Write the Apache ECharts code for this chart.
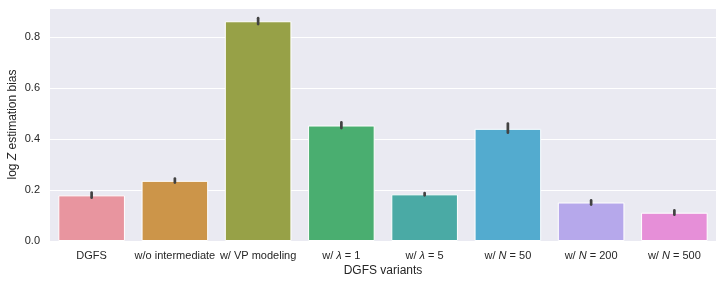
<!DOCTYPE html>
<html><head><meta charset="utf-8">
<script src="https://cdn.jsdelivr.net/npm/echarts@6/dist/echarts.min.js"></script>
<style>html,body{margin:0;padding:0;background:#fff}#c{width:724px;height:284px}</style>
</head><body><div id="c"></div>
<script>
const categories = ['DGFS', 'w/o intermediate', 'w/ VP modeling', 'lam1', 'lam5', 'N50', 'N200', 'N500'];
const values = [0.179, 0.236, 0.862, 0.453, 0.183, 0.440, 0.151, 0.111];
const errLow = [0.170, 0.229, 0.851, 0.443, 0.179, 0.425, 0.143, 0.103];
const errHigh = [0.190, 0.245, 0.874, 0.465, 0.188, 0.461, 0.159, 0.120];
const yTicks = [0, 0.2, 0.4, 0.6, 0.8];
const colors = ['#e8959f', '#cc9549', '#97a147', '#4aae70', '#4aaaa5', '#53abcf', '#b6a8eb', '#e68fd8'];

const FONT = 'Liberation Sans';
const labelRich = {
  n: {fontFamily: FONT, fontSize: 11, color: '#262626'},
  i: {fontFamily: FONT, fontSize: 11, color: '#262626', fontStyle: 'italic'}
};
function catLabel(v) {
  if (v === 'lam1') return '{n|w/ }{i|λ}{n| = 1}';
  if (v === 'lam5') return '{n|w/ }{i|λ}{n| = 5}';
  if (v.startsWith('N')) return '{n|w/ }{i|N}{n| = ' + v.slice(1) + '}';
  return '{n|' + v + '}';
}
const chart = echarts.init(document.getElementById('c'), null, {renderer: 'canvas'});
chart.setOption({
  animation: false,
  backgroundColor: '#ffffff',
  grid: {left: 50, right: 8, top: 8, bottom: 43, show: true, backgroundColor: '#eaeaf2', borderWidth: 0,
    outerBoundsMode: 'none', containLabel: false},
  xAxis: {
    type: 'category', data: categories,
    axisLine: {show: false}, axisTick: {show: false}, splitLine: {show: false},
    axisLabel: {interval: 0, margin: 9, formatter: catLabel, rich: labelRich},
    name: 'DGFS variants', nameLocation: 'middle', nameGap: 24, nameMoveOverlap: false,
    nameTextStyle: {fontFamily: FONT, fontSize: 12, color: '#262626'}
  },
  yAxis: {
    type: 'value', min: 0, max: 0.914, interval: 0.2,
    axisLine: {show: false}, axisTick: {show: false},
    splitLine: {lineStyle: {color: '#ffffff', width: 1.2}},
    axisLabel: {margin: 10, fontFamily: FONT, fontSize: 11, color: '#262626',
      formatter: v => { const t = yTicks.find(x => Math.abs(x - v) < 1e-6); return t === undefined ? '' : t.toFixed(1); }},
    name: '{n|log }{i|Z}{n| estimation bias}', nameLocation: 'middle', nameGap: 31, nameRotate: 90,
    nameMoveOverlap: false,
    nameTextStyle: {rich: {
      n: {fontFamily: FONT, fontSize: 12, color: '#262626'},
      i: {fontFamily: FONT, fontSize: 12, color: '#262626', fontStyle: 'italic'}
    }}
  },
  series: [
    {
      type: 'bar', barWidth: '80%',
      data: values.map((v, i) => ({value: v, itemStyle: {color: colors[i]}})),
      itemStyle: {borderColor: '#ffffff', borderWidth: 1}
    },
    {
      type: 'custom', z: 10,
      data: categories.map((c, i) => [i, errLow[i], errHigh[i]]),
      renderItem: (params, api) => {
        const p1 = api.coord([api.value(0), api.value(1)]);
        const p2 = api.coord([api.value(0), api.value(2)]);
        return {type: 'line', shape: {x1: p1[0], y1: p1[1], x2: p2[0], y2: p2[1]},
          style: {stroke: '#424242', lineWidth: 2.7, lineCap: 'round'}};
      }
    }
  ]
});
</script></body></html>
